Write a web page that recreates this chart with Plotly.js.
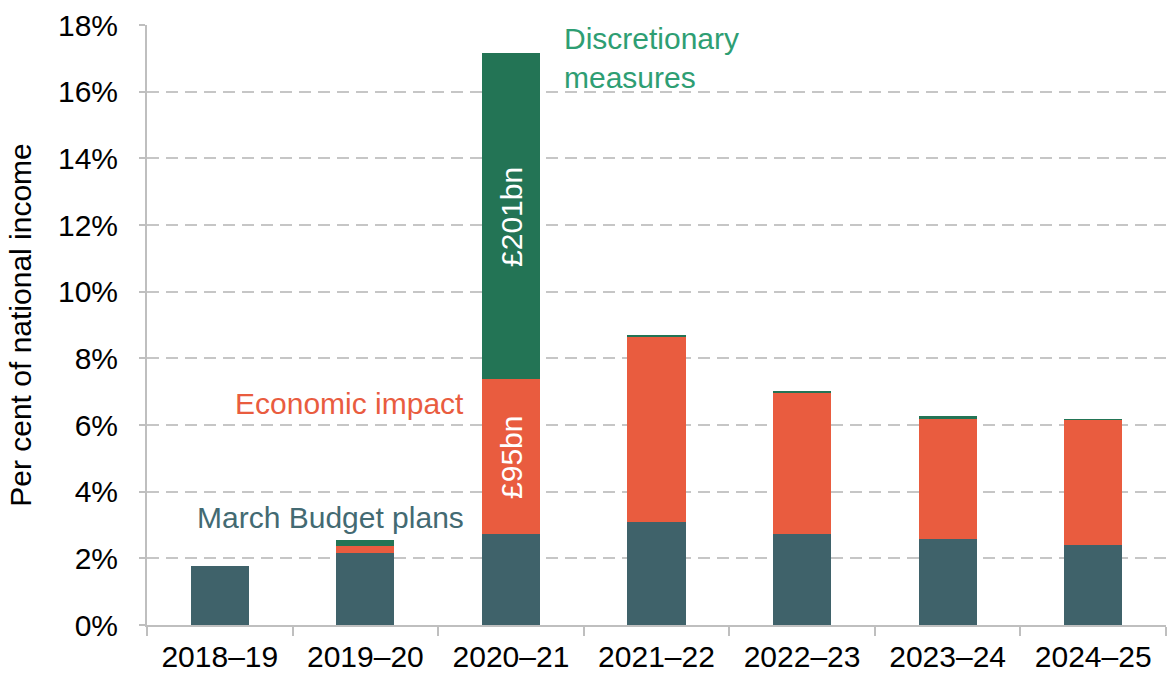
<!DOCTYPE html>
<html>
<head>
<meta charset="utf-8">
<script src="https://cdn.plot.ly/plotly-3.0.1.min.js"></script>
<style>html,body{margin:0;padding:0;background:#fff;}#chart{width:1168px;height:677px;}</style>
</head>
<body>
<div id="chart"></div>
<script>
const years = ['2018–19', '2019–20', '2020–21', '2021–22', '2022–23', '2023–24', '2024–25'];
const marchBudget = [1.77, 2.15, 2.72, 3.10, 2.72, 2.57, 2.39];
const economicImpact = [0, 0.23, 4.65, 5.55, 4.25, 3.61, 3.75];
const discretionary = [0, 0.18, 9.80, 0.05, 0.05, 0.08, 0.05];

const cBase = '#3f626a', cEcon = '#e95c3f', cDisc = '#237455';
const font = 'Liberation Sans, Arial, sans-serif';

const traces = [
  {type: 'bar', name: 'March Budget plans', x: years, y: marchBudget, marker: {color: cBase}},
  {type: 'bar', name: 'Economic impact', x: years, y: economicImpact, marker: {color: cEcon}},
  {type: 'bar', name: 'Discretionary measures', x: years, y: discretionary, marker: {color: cDisc}}
];

const layout = {
  width: 1168, height: 677,
  margin: {l: 147, r: 2, t: 25, b: 52},
  barmode: 'stack', bargap: 0.6,
  showlegend: false,
  paper_bgcolor: '#fff', plot_bgcolor: '#fff',
  font: {family: font, size: 30, color: '#000'},
  xaxis: {
    type: 'category',
    showline: true, linecolor: '#bfbfbf', linewidth: 2,
    ticks: 'outside', tickson: 'boundaries', ticklen: 9, tickcolor: '#bfbfbf', tickwidth: 2,
    tickfont: {size: 30, color: '#000'},
    showgrid: false, zeroline: false,
    ticklabelstandoff: 4
  },
  yaxis: {
    range: [0, 18], dtick: 2, ticksuffix: '%',
    showline: true, linecolor: '#bfbfbf', linewidth: 2,
    ticks: 'outside', ticklen: 6, tickcolor: '#bfbfbf', tickwidth: 2,
    tickfont: {size: 30, color: '#000'},
    showgrid: true, gridcolor: '#c6c6c6', gridwidth: 2, griddash: '12px,7px',
    zeroline: false,
    ticklabelstandoff: 15,
    title: {text: 'Per cent of national income', font: {size: 30, color: '#000'}, standoff: 17}
  },
  annotations: [
    {x: 2.35, y: 17.0, xref: 'x', yref: 'y', text: 'Discretionary<br>measures', showarrow: false,
     xanchor: 'left', yanchor: 'middle', align: 'left', font: {size: 30, color: '#2e9e73'}},
    {x: 1.69, y: 6.66, xref: 'x', yref: 'y', text: 'Economic impact', showarrow: false,
     xanchor: 'right', yanchor: 'middle', font: {size: 30, color: cEcon}},
    {x: 1.69, y: 3.24, xref: 'x', yref: 'y', text: 'March Budget plans', showarrow: false,
     xanchor: 'right', yanchor: 'middle', font: {size: 30, color: '#436a72'}},
    {x: 2, y: 12.24, xref: 'x', yref: 'y', text: '£201bn', showarrow: false, textangle: -90,
     xanchor: 'center', yanchor: 'middle', font: {size: 30, color: '#fff'}},
    {x: 2, y: 5.04, xref: 'x', yref: 'y', text: '£95bn', showarrow: false, textangle: -90,
     xanchor: 'center', yanchor: 'middle', font: {size: 30, color: '#fff'}}
  ]
};

Plotly.newPlot('chart', traces, layout, {displayModeBar: false, staticPlot: true});
</script>
</body>
</html>
